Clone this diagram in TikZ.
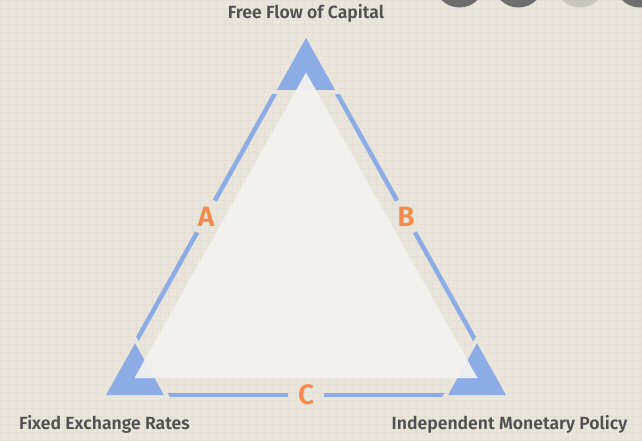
\documentclass[tikz,border=0pt]{standalone}
\usepackage{fontspec}
\setmainfont{Fira Sans}[BoldFont={Fira Sans SemiBold}]
\usetikzlibrary{calc}

\definecolor{paper}{HTML}{EAE5DB}
\definecolor{gridline}{HTML}{E4DFD4}
\definecolor{trblue}{HTML}{8DACE6}
\definecolor{inner}{HTML}{F3F2EF}
\definecolor{letter}{HTML}{F4894B}
\definecolor{caption}{HTML}{505050}
\definecolor{dot}{HTML}{6E6E6E}
\definecolor{dotlight}{HTML}{C8C4BE}

\tikzset{
  edge/.style={trblue,line width=4.5pt},
  corner/.style={fill=trblue},
  gap/.style={draw=paper,line width=8pt,line join=miter},
  side/.style={circle,minimum size=36pt,inner sep=0pt,text=letter,
    font=\fontsize{28}{28}\selectfont\bfseries},
  vertex/.style={text=caption,font=\fontsize{17.6}{17.6}\selectfont\bfseries}
}

\begin{document}
\begin{tikzpicture}[x=1pt,y=-1pt]
        \fill[paper] (0,0) rectangle (642,440);
        \useasboundingbox (0,0) rectangle (642,440);
        \foreach \i in {0,8,...,640} \draw[gridline,line width=0.5pt] (\i,0) -- (\i,440);
        \foreach \j in {0,8,...,440} \draw[gridline,line width=0.5pt] (0,\j) -- (642,\j);
        % dots in the corner
        \fill[dot] (459.5,-18) circle (25.5);
        \fill[dot] (518.5,-18) circle (25.5);
        \fill[dotlight] (580,-18) circle (25.5);
        \fill[dot] (640,-18) circle (25.5);
        % the trilemma
        \coordinate (top) at (306,38);
        \coordinate (bl) at (106,395);
        \coordinate (br) at (506,395);
        \node[side] (A) at ($(top)!0.5!(bl)$) {A};
        \node[side] (B) at ($(top)!0.5!(br)$) {B};
        \node[side] (C) at ($(bl)!0.5!(br)$) {C};
        \draw[edge] (top) -- (A);
        \draw[edge] (A) -- (bl);
        \draw[edge] (top) -- (B);
        \draw[edge] (B) -- (br);
        \draw[edge] (bl) -- (C);
        \draw[edge] (C) -- (br);
        \foreach \c/\p/\q in {top/bl/br,bl/top/br,br/top/bl} {
          \draw[gap] (\c) -- ($(\c)!0.145!(\p)$) -- ($(\c)!0.145!(\q)$) -- cycle;
          \fill[corner] (\c) -- ($(\c)!0.145!(\p)$) -- ($(\c)!0.145!(\q)$) -- cycle;
        }
        \fill[inner,opacity=0.93] (306,72.5) -- (134.5,378) -- (477.5,378) -- cycle;
        \node[vertex] (capital) at (306,13) {Free Flow of Capital};
        \node[vertex] (fixed) at (104.5,424) {Fixed Exchange Rates};
        \node[vertex] (policy) at (509.5,424) {Independent Monetary Policy};
      \end{tikzpicture}
\end{document}
